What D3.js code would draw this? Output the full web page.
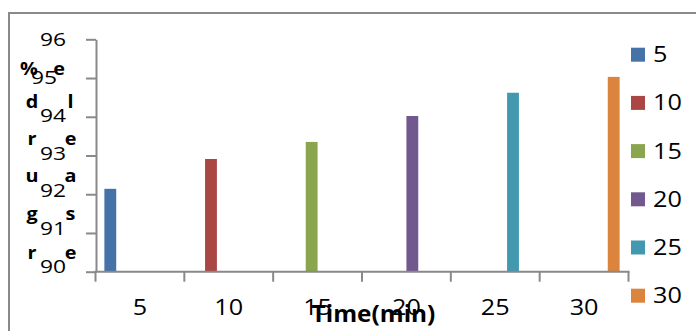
<!DOCTYPE html>
<html>
<head>
<meta charset="utf-8">
<script src="https://cdn.jsdelivr.net/npm/d3@7"></script>
<style>
  body { margin: 0; background: #fff; }
  svg { display: block; font-family: "Open Sans", sans-serif; }
</style>
</head>
<body>
<div id="chart"></div>
<script>
// data
var categories = ["5", "10", "15", "20", "25", "30"];
var series = ["5", "10", "15", "20", "25", "30"];
var values = [92.14, 92.91, 93.35, 94.02, 94.62, 95.03];
var yTicks = [90, 91, 92, 93, 94, 95, 96];
var titleLeft = ["%", "d", "r", "u", "g", "r"];
var titleRight = ["e", "l", "e", "a", "s", "e"];
var colors = ["#4572a7", "#aa4643", "#89a54e", "#71588f", "#4198af", "#db843d"];

var width = 696, height = 331;
var axisColor = "#898989";

var svg = d3.select("#chart").append("svg")
    .attr("width", width)
    .attr("height", height);

// outer chart border (runs off the right/bottom of the picture)
svg.append("rect")
    .attr("x", 9).attr("y", 13)
    .attr("width", 720).attr("height", 340)
    .attr("fill", "none")
    .attr("stroke", "#8a8a8a")
    .attr("stroke-width", 2);

var x = d3.scaleBand().domain(categories).range([95.5, 628.5]);
var xs = d3.scaleBand().domain(series).range([0, x.bandwidth()]).paddingInner(0).paddingOuter(0.75);
var y = d3.scaleLinear().domain([90, 96]).range([271.7, 39.3]);
// the tick labels sit on a slightly tighter pitch than the ticks
var yLab = d3.scaleLinear().domain([90, 96]).range([273, 46]);

// stretched text helper (the source image is wider than its fonts)
function stretched(sel, px, py, sx) {
    return sel.attr("transform", "translate(" + px + "," + py + ") scale(" + sx + ",1)");
}

// bars: one series per category
svg.append("g").selectAll("rect")
    .data(values)
    .enter().append("rect")
    .attr("x", function(d, i) { return x(categories[i]) + xs(series[i]); })
    .attr("width", xs.bandwidth())
    .attr("y", function(d) { return y(d); })
    .attr("height", function(d) { return y(90) - y(d); })
    .attr("fill", function(d, i) { return colors[i]; });

// y axis
var yAxis = svg.append("g")
    .attr("transform", "translate(96,0)")
    .call(d3.axisLeft(y).tickValues(yTicks).tickSize(10).tickSizeOuter(0).tickFormat(""));
yAxis.selectAll("path, line").attr("stroke", axisColor).attr("stroke-width", 2);

svg.append("g").selectAll("text")
    .data(yTicks)
    .enter().append("text")
    .attr("text-anchor", "end")
    .attr("font-size", 19)
    .attr("fill", "#000")
    .each(function(d) {
        var dx = d == 95 ? -9 : 0;
        stretched(d3.select(this), 66 + dx, yLab(d), 1.2);
    })
    .text(function(d) { return d; });

// x axis: line plus boundary ticks
var xAxis = svg.append("g");
xAxis.append("line")
    .attr("x1", x.range()[0] - 1).attr("x2", x.range()[1] + 1)
    .attr("y1", y(90)).attr("y2", y(90))
    .attr("stroke", axisColor).attr("stroke-width", 2);
var bounds = categories.map(function(c) { return x(c); }).concat([x.range()[1]]);
xAxis.selectAll(".tick")
    .data(bounds)
    .enter().append("line")
    .attr("x1", function(d) { return d; }).attr("x2", function(d) { return d; })
    .attr("y1", y(90)).attr("y2", y(90) + 10)
    .attr("stroke", axisColor).attr("stroke-width", 2);

svg.append("g").selectAll("text")
    .data(categories)
    .enter().append("text")
    .attr("text-anchor", "middle")
    .attr("font-size", 21)
    .attr("fill", "#000")
    .each(function(d) {
        stretched(d3.select(this), x(d) + x.bandwidth() / 2, 315, 1.2);
    })
    .text(function(d) { return d; });

// x title
stretched(svg.append("text"), 373.5, 322, 1.06)
    .attr("text-anchor", "middle")
    .attr("font-size", 23)
    .attr("font-weight", "bold")
    .text("Time(min)");

// y title, broken into two columns of letters
var rowBase = [75, 108, 144.5, 182, 220, 258.5];
svg.append("g").selectAll("text")
    .data(titleLeft)
    .enter().append("text")
    .attr("text-anchor", "middle")
    .attr("font-size", 18)
    .attr("font-weight", "bold")
    .each(function(d, i) {
        stretched(d3.select(this), i == 0 ? 29 : 32, rowBase[i], 1.1);
    })
    .text(function(d) { return d; });
svg.append("g").selectAll("text")
    .data(titleRight)
    .enter().append("text")
    .attr("text-anchor", "middle")
    .attr("font-size", 18)
    .attr("font-weight", "bold")
    .each(function(d, i) {
        stretched(d3.select(this), i == 0 ? 59 : 70.5, rowBase[i], 1.1);
    })
    .text(function(d) { return d; });

// legend
var legend = svg.append("g").selectAll("g")
    .data(series)
    .enter().append("g")
    .attr("transform", function(d, i) { return "translate(631," + (54.7 + i * 48.2) + ")"; });
legend.append("rect")
    .attr("x", 0).attr("y", -7)
    .attr("width", 14).attr("height", 14)
    .attr("fill", function(d, i) { return colors[i]; });
legend.append("text")
    .attr("font-size", 21)
    .each(function() { stretched(d3.select(this), 22, 7.5, 1.2); })
    .text(function(d) { return d; });
</script>
</body>
</html>
